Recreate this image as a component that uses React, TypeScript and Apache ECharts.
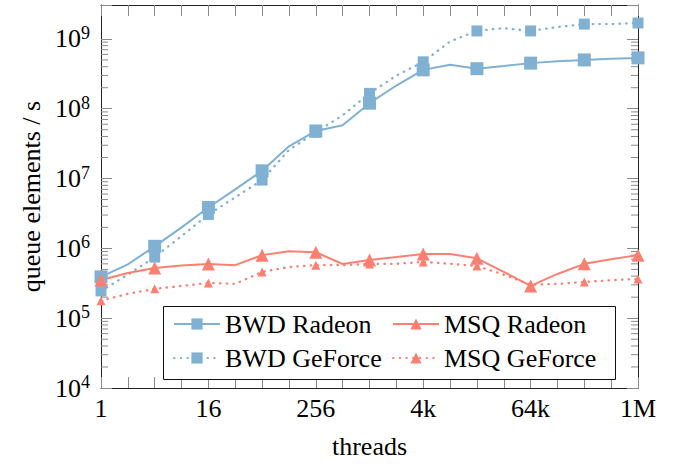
import React, { useEffect, useRef } from 'react';
import * as echarts from 'echarts';

const threads = [1, 2, 4, 8, 16, 32, 64, 128, 256, 512, 1024, 2048, 4096, 8192, 16384, 32768, 65536, 131072, 262144, 524288, 1048576];
const xTickLabels = ['1', '16', '256', '4k', '64k', '1M'];
const bwdRadeon = [3.9e5, 5.9e5, 1.07e6, 2.0e6, 3.85e6, 7.0e6, 1.29e7, 2.9e7, 4.8e7, 5.8e7, 1.2e8, 2.15e8, 3.6e8, 4.27e8, 3.75e8, 4.1e8, 4.5e8, 4.8e8, 5.0e8, 5.2e8, 5.35e8];
const bwdGeForce = [2.46e5, 4.2e5, 7.5e5, 1.5e6, 3.06e6, 5.4e6, 9.5e6, 2.57e7, 4.6e7, 8.05e7, 1.66e8, 2.98e8, 4.7e8, 9.2e8, 1.3e9, 1.43e9, 1.3e9, 1.48e9, 1.63e9, 1.63e9, 1.69e9];
const msqRadeon = [3.53e5, 4.45e5, 5.25e5, 5.7e5, 5.97e5, 5.75e5, 8.0e5, 9.1e5, 8.8e5, 5.97e5, 6.8e5, 7.5e5, 8.3e5, 8.3e5, 7.2e5, 4.6e5, 2.9e5, 4.3e5, 6.0e5, 7.0e5, 8.0e5];
const msqGeForce = [1.78e5, 2.23e5, 2.63e5, 2.9e5, 3.2e5, 3.1e5, 4.6e5, 5.4e5, 5.75e5, 5.75e5, 5.97e5, 6.0e5, 6.4e5, 6.0e5, 5.6e5, 4.2e5, 3.0e5, 3.1e5, 3.3e5, 3.5e5, 3.65e5];

const FONT = 'Liberation Serif';
const BLUE = '#80b1d3';
const RED = '#fb8072';
const TICK = '#8a8a8a';
const FRAME = '#222';
const Y_MIN = 1e4;
const Y_MAX = 3.06e9;

const T = { fontFamily: FONT, fontSize: 26, lineHeight: 26, color: '#000' };

function makeSeries(name: string, vals: number[], color: string, dotted: boolean, symbol: string, size: number) {
  return {
    name,
    type: 'line',
    symbol,
    symbolSize: size,
    showSymbol: true,
    data: threads.map((t, i) => ({ value: [Math.log2(t), vals[i]], symbol: i % 2 === 0 ? symbol : 'none' })),
    lineStyle: dotted
      ? { color, width: 2.3, type: [0.5, 6.2], cap: 'round' }
      : { color, width: 2, type: 'solid' },
    itemStyle: { color },
    emphasis: { disabled: true },
    z: 2,
  };
}

const minorTicks: number[] = [];
for (let d = 4; d < 9; d++) {
  for (let m = 2; m <= 9; m++) minorTicks.push(m * Math.pow(10, d));
}

export default function App() {
  const ref = useRef<HTMLDivElement>(null);
  useEffect(() => {
    if (!ref.current) return;
    const chart = echarts.init(ref.current, undefined, { renderer: 'svg' });
    const legendCommon = {
      orient: 'vertical', top: 311,
      itemWidth: 46, itemHeight: 14, itemGap: 8, padding: 0, selectedMode: false,
      textStyle: { ...T }, z: 5,
    };
    const option: any = {
      animation: false,
      backgroundColor: '#fff',
      textStyle: { fontFamily: FONT },
      grid: { left: 101, right: 42, top: 5, bottom: 72, containLabel: false },
      xAxis: [
        {
          type: 'value', min: 0, max: 20, interval: 1, position: 'bottom',
          axisLine: { show: true, onZero: false, lineStyle: { color: FRAME, width: 1 } },
          axisTick: { show: true, inside: true, length: 11, lineStyle: { color: TICK, width: 1 } },
          axisLabel: {
            ...T, margin: 7,
            formatter: (v: number) => (Math.round(v) % 4 === 0 ? xTickLabels[Math.round(v) / 4] : ''),
          },
          splitLine: { show: false },
          name: 'threads', nameLocation: 'middle', nameGap: 45,
          nameTextStyle: { ...T },
        },
        {
          type: 'value', min: 0, max: 20, interval: 1, position: 'top',
          axisLine: { show: true, onZero: false, lineStyle: { color: FRAME, width: 1 } },
          axisTick: { show: true, inside: true, length: 11, lineStyle: { color: TICK, width: 1 } },
          axisLabel: { show: false },
          splitLine: { show: false },
        },
      ],
      yAxis: [
        {
          type: 'log', min: Y_MIN, max: Y_MAX, position: 'left',
          axisLine: { show: true, onZero: false, lineStyle: { color: FRAME, width: 1 } },
          axisTick: { show: true, inside: true, length: 11, lineStyle: { color: TICK, width: 1 } },
          axisLabel: {
            margin: 11,
            fontFamily: FONT,
            formatter: (v: number) => {
              const e = Math.round(Math.log10(v));
              if (Math.abs(v / Math.pow(10, e) - 1) > 1e-6) return '';
              return `{b|10}{s|${e}}`;
            },
            rich: {
              b: { fontFamily: FONT, fontSize: 26, lineHeight: 30, color: '#000' },
              s: { fontFamily: FONT, fontSize: 18, lineHeight: 18, color: '#000', verticalAlign: 'top' },
            },
          },
          splitLine: { show: false },
          name: 'queue elements / s', nameLocation: 'middle', nameGap: 55, nameRotate: 90,
          nameTextStyle: { ...T },
        },
        {
          type: 'log', min: Y_MIN, max: Y_MAX, position: 'right',
          axisLine: { show: true, onZero: false, lineStyle: { color: FRAME, width: 1 } },
          axisTick: { show: true, inside: true, length: 11, lineStyle: { color: TICK, width: 1 } },
          axisLabel: { show: false },
          splitLine: { show: false },
        },
      ],
      legend: [
        { ...legendCommon, data: ['BWD Radeon', 'BWD GeForce'], left: 173 },
        { ...legendCommon, data: ['MSQ Radeon', 'MSQ GeForce'], left: 392 },
      ],
      graphic: [
        {
          type: 'rect', z: 4,
          shape: { x: 163.5, y: 306.5, width: 452, height: 73 },
          style: { fill: '#fff', stroke: '#111', lineWidth: 1 },
        },
      ],
      series: [
        {
          type: 'custom', silent: true, clip: false, z: 1,
          xAxisIndex: 0, yAxisIndex: 0,
          data: minorTicks.map((v) => [0, v]),
          renderItem: (params: any, api: any) => {
            const cs = params.coordSys;
            const y = api.coord([0, api.value(1)])[1];
            const st = { stroke: TICK, lineWidth: 1 };
            return {
              type: 'group',
              children: [
                { type: 'line', shape: { x1: cs.x, y1: y, x2: cs.x + 7, y2: y }, style: st },
                { type: 'line', shape: { x1: cs.x + cs.width - 7, y1: y, x2: cs.x + cs.width, y2: y }, style: st },
              ],
            };
          },
        },
        makeSeries('BWD Radeon', bwdRadeon, BLUE, false, 'rect', 13),
        makeSeries('BWD GeForce', bwdGeForce, BLUE, true, 'rect', 11),
        makeSeries('MSQ Radeon', msqRadeon, RED, false, 'triangle', 13),
        makeSeries('MSQ GeForce', msqGeForce, RED, true, 'triangle', 9),
      ],
    };
    chart.setOption(option);
    return () => chart.dispose();
  }, []);
  return <div ref={ref} style={{ position: 'fixed', left: 0, top: 0, width: 680, height: 464, background: '#fff' }} />;
}
